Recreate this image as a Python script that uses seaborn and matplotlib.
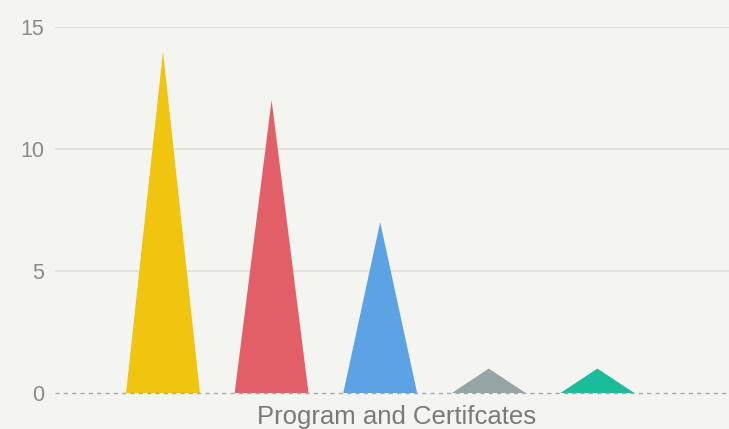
import matplotlib
matplotlib.use("Agg")
import matplotlib.pyplot as plt
import seaborn as sns
import numpy as np

category = "Program and Certifcates"
series = ["Series A", "Series B", "Series C", "Series D", "Series E"]
values = [14, 12, 7, 1, 1]
colors = ["#f1c40f", "#e35f68", "#5ca3e6", "#95a5a6", "#1abc9c"]
yticks = [0, 5, 10, 15]

sns.set_theme(style="white")
plt.rcParams['font.family'] = ['Liberation Sans', 'DejaVu Sans']

bg = "#f4f4f0"
fig = plt.figure(figsize=(7.29, 4.29), dpi=100, facecolor=bg)
ax = fig.add_axes([55/729, 1-393/429, 1-55/729, (393-27)/429])
ax.set_facecolor(bg)

half = 0.34
for i, (v, c) in enumerate(zip(values, colors)):
    ax.fill([i - half, i, i + half], [0, v, 0], color=c, lw=0, zorder=3)

ax.set_ylim(0, 15)
ax.set_xlim((55-163)/108.6, (729-163)/108.6)
ax.set_yticks(yticks)
ax.set_yticklabels([str(t) for t in yticks], color="#8a8a8a", fontsize=15.5)
ax.set_xticks([])
for t in [5, 10, 15]:
    ax.axhline(t, color="#e2e2de", lw=1.5, zorder=1)
ax.axhline(0, color="#a8a8a8", lw=1, ls=(0, (3, 3)), zorder=4, clip_on=False)
for s in ax.spines.values():
    s.set_visible(False)
ax.tick_params(axis="y", length=0, pad=8)
ax.set_xlabel(category, fontsize=18.5, color="#7a7a7a")
ax.xaxis.set_label_coords((397-55)/674, -24/366, transform=ax.transAxes)
ax.xaxis.label.set_va("center")

fig.savefig("out.png", dpi=100, facecolor=bg)
